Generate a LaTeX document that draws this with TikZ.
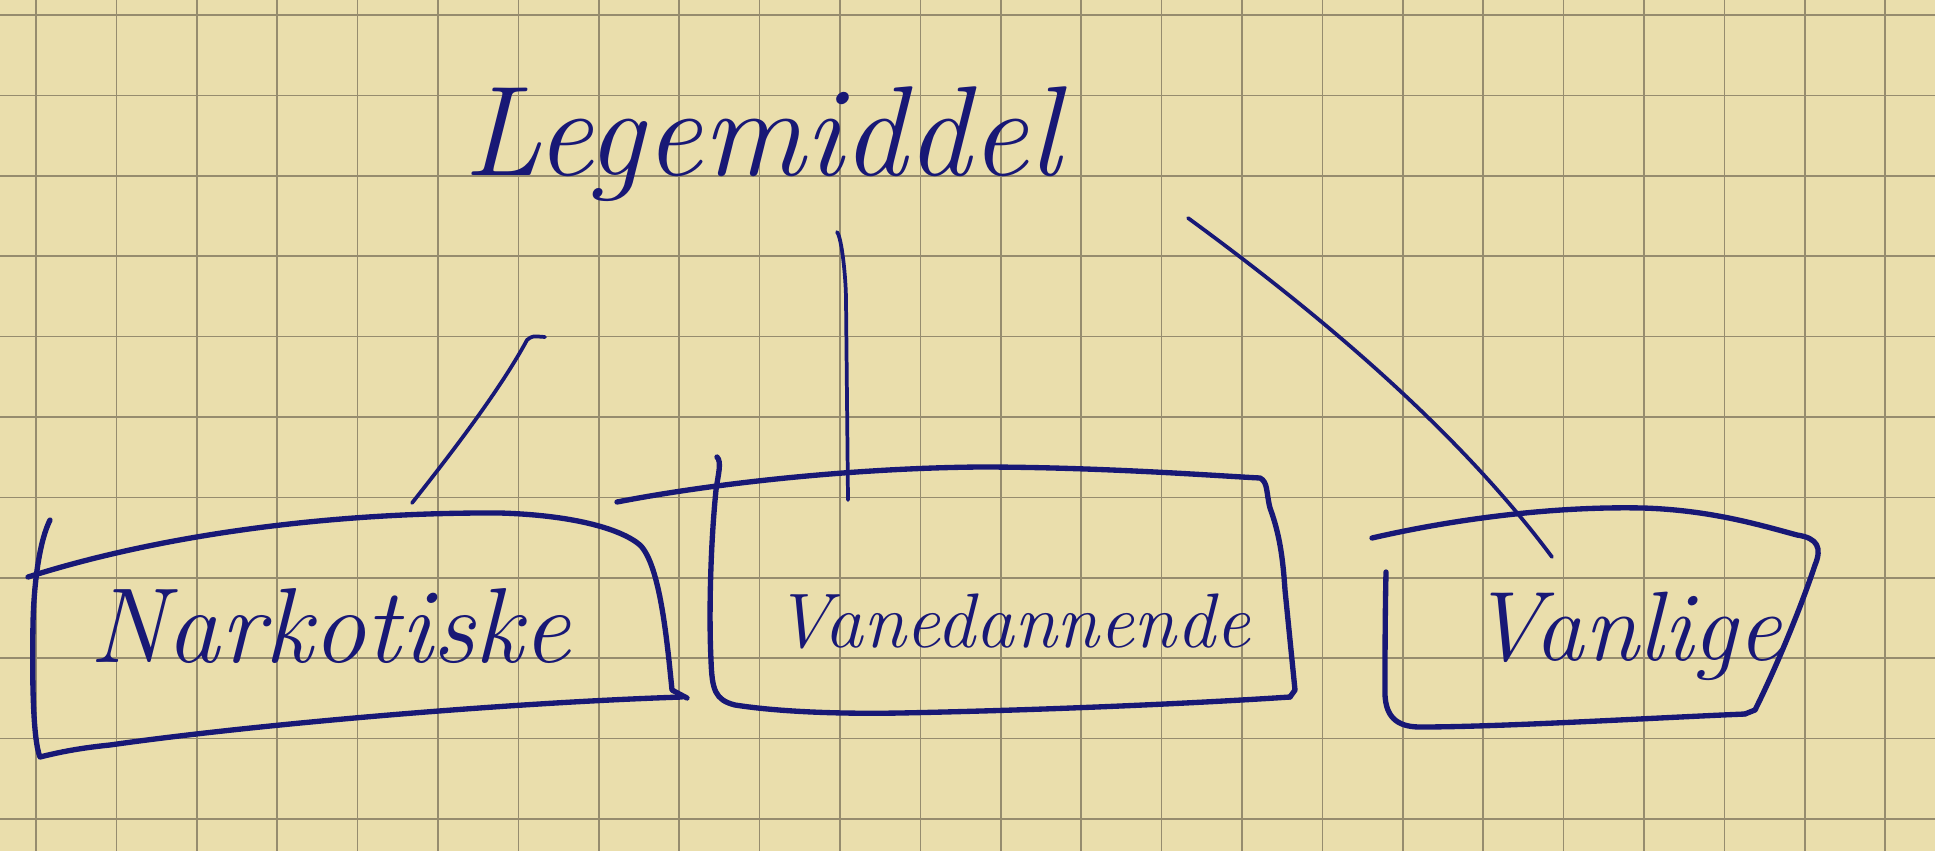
\documentclass[tikz,border=0pt]{standalone}
\usepackage{tikz}
\usepackage{xcolor}

\definecolor{paper}{RGB}{234,222,172}
\definecolor{gridline}{RGB}{150,140,110}
\definecolor{ink}{RGB}{24,24,118}

\tikzset{
  boxline/.style={draw=ink, line width=4pt, line cap=round, line join=round},
  linkline/.style={draw=ink, line width=2.8pt, line cap=round, line join=round},
  word/.style={text=ink, inner sep=0.75pt, anchor=base, font=\itshape\fontsize{#1}{#1}\selectfont}
}

\begin{document}
\begin{tikzpicture}[x=0.75pt,y=0.75pt,yscale=-1,xscale=1]
\useasboundingbox (0,0) rectangle (1935,851);
\fill[paper] (0,0) rectangle (1935,851);
% squared paper
\foreach \i in {0,...,23} \draw[gridline, line width=1.3pt] (36+80.4*\i,0) -- (36+80.4*\i,851);
\foreach \j in {0,...,10} \draw[gridline, line width=1.3pt] (0,15+80.4*\j) -- (1935,15+80.4*\j);

% words
\node[word=96] (legemiddel) at (762,175) {Legemiddel};
\node[word=80] (narkotiske) at (330,662) {Narkotiske};
\node[word=58] (vanedannende) at (1012,647) {Vanedannende};
\node[word=74] (vanlige) at (1626,660) {Vanlige};

% ends of the strokes
\coordinate (narkTop) at (412,503);
\coordinate (legLeft) at (527,340);
\coordinate (legMid) at (837,232);
\coordinate (vaneTop) at (848,500);
\coordinate (legRight) at (1188,218);
\coordinate (vanlTop) at (1552,557);

% Narkotiske box
\draw[boxline] (28,577) .. controls (160,535) and (330,512) .. (500,513) .. controls (570,515) and (620,528) .. (640,545) .. controls (660,565) and (667,640) .. (672,690) -- (687,698);
\draw[boxline] (50,520) .. controls (40,540) and (34,580) .. (33,623) .. controls (32,680) and (33,740) .. (40,757) .. controls (60,752) and (80,748) .. (110,745) .. controls (250,725) and (500,703) .. (682,697);

% Vanedannende box
\draw[boxline] (617,502) .. controls (720,482) and (860,468) .. (980,467) .. controls (1100,467) and (1220,476) .. (1260,478) .. controls (1268,482) and (1266,492) .. (1270,508) .. controls (1280,535) and (1283,560) .. (1285,590) -- (1295,690) -- (1290,697);
\draw[boxline] (717,457) .. controls (722,462) and (718,475) .. (716,490) .. controls (710,550) and (709,620) .. (711,660) .. controls (712,690) and (715,700) .. (735,705) .. controls (780,712) and (840,714) .. (900,713) .. controls (1050,710) and (1200,703) .. (1290,697);

% Vanlige box
\draw[boxline] (1372,538) .. controls (1450,520) and (1550,506) .. (1643,508) .. controls (1710,510) and (1760,525) .. (1797,535) .. controls (1818,538) and (1822,548) .. (1815,565) .. controls (1800,610) and (1775,670) .. (1755,710) -- (1745,714);
\draw[boxline] (1386,572) .. controls (1385,620) and (1385,660) .. (1385,695) .. controls (1386,715) and (1395,727) .. (1420,727) .. controls (1500,727) and (1650,718) .. (1745,714);

% strokes from Legemiddel
\draw[linkline] (narkTop) .. controls (450,455) and (500,390) .. (legLeft) .. controls (532,336) .. (545,337);
\draw[linkline] (legMid) .. controls (842,238) and (846,280) .. (846,300) -- (vaneTop);
\draw[linkline] (legRight) .. controls (1300,300) and (1450,420) .. (vanlTop);
\end{tikzpicture}
\end{document}
